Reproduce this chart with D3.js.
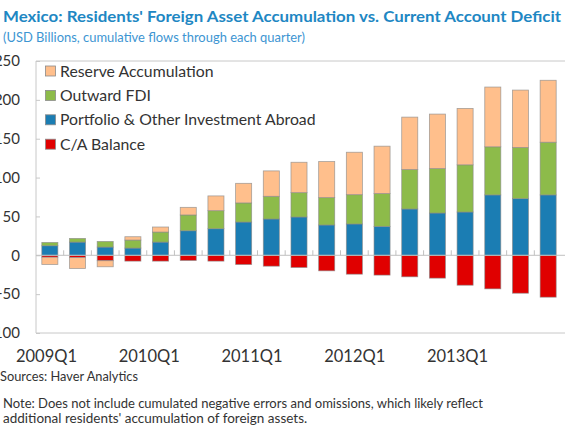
<!DOCTYPE html>
<html>
<head>
<meta charset="utf-8">
<script src="https://cdn.jsdelivr.net/npm/d3@7"></script>
<style>
  body { margin: 0; background: #fff; }
  svg { display: block; font-family: Lato, 'Open Sans', sans-serif; }
</style>
</head>
<body>
<div id="chart"></div>
<script>
var quarters = ['2009Q1', '2009Q2', '2009Q3', '2009Q4', '2010Q1', '2010Q2', '2010Q3', '2010Q4',
    '2011Q1', '2011Q2', '2011Q3', '2011Q4', '2012Q1', '2012Q2', '2012Q3', '2012Q4',
    '2013Q1', '2013Q2', '2013Q3'];
var portfolio = [12.3, 17, 10.6, 9.3, 17, 31.6, 34.2, 42.8, 46.7, 49.3, 39, 40.3, 37.2, 59.6, 54.4, 55.7, 77.7, 72.9, 77.7];
var outwardFdi = [4.2, 4.7, 7.2, 10.3, 12.9, 20.3, 23.2, 24.6, 29.2, 31.3, 35.2, 37.7, 42.2, 50.7, 57.2, 60.7, 61.9, 65.8, 67.8];
var reserves = [-9.3, -14, -7.8, 4.3, 6.5, 9.8, 19, 25.2, 32.7, 39.1, 46.4, 54.6, 61, 67.5, 70.1, 72.6, 76.9, 73.9, 79.7];
var caBalance = [-2.5, -3, -7, -7.5, -7.5, -6.7, -7.5, -11.9, -14, -15.7, -20, -24.3, -25.5, -27.7, -29.4, -38.5, -43.2, -48.8, -53.9];
var yTicks = [-100, -50, 0, 50, 100, 150, 200, 250];
var labelQuarters = ['2009Q1', '2010Q1', '2011Q1', '2012Q1', '2013Q1'];

var series = [
    { name: 'C/A Balance', values: caBalance, color: '#e00000' },
    { name: 'Portfolio & Other Investment Abroad', values: portfolio, color: '#1b7db3' },
    { name: 'Outward FDI', values: outwardFdi, color: '#8dbb4a' },
    { name: 'Reserve Accumulation', values: reserves, color: '#ffbf8c' }
];

var width = 565, height = 429;
var plot = { left: 36, right: 566, top: 61, bottom: 333 };

var svg = d3.select('#chart').append('svg')
    .attr('width', width)
    .attr('height', height);

svg.append('text')
    .attr('x', 3).attr('y', 22)
    .attr('textLength', 558).attr('lengthAdjust', 'spacingAndGlyphs')
    .style('font-size', '16px').style('font-weight', 'bold')
    .style('fill', '#1e87c3')
    .text("Mexico: Residents' Foreign Asset Accumulation vs. Current Account Deficit");

svg.append('text')
    .attr('x', 3).attr('y', 42)
    .attr('textLength', 302).attr('lengthAdjust', 'spacingAndGlyphs')
    .style('font-size', '13.5px')
    .style('fill', '#3d95d2')
    .text('(USD Billions, cumulative flows through each quarter)');

var x = d3.scaleBand()
    .domain(quarters)
    .range([plot.left, 562])
    .paddingInner(0.42)
    .paddingOuter(0.21);

var y = d3.scaleLinear()
    .domain([-100, 250])
    .range([plot.bottom, plot.top]);

// quarter labels sit on their own spacing in the original
var xLabel = d3.scalePoint()
    .domain(labelQuarters)
    .range([46, 457]);

// frame
var frame = svg.append('g').attr('stroke', '#c8c8c8').attr('fill', 'none');
frame.append('line').attr('x1', plot.left).attr('x2', plot.right).attr('y1', plot.top).attr('y2', plot.top);
frame.append('line').attr('x1', plot.left).attr('x2', plot.right).attr('y1', plot.bottom).attr('y2', plot.bottom);
frame.append('line').attr('x1', plot.left).attr('x2', plot.left).attr('y1', plot.top).attr('y2', plot.bottom);

var yAxis = svg.append('g')
    .attr('transform', `translate(${plot.left},0)`)
    .call(d3.axisLeft(y).tickValues(yTicks).tickSize(-4).tickPadding(16).tickFormat(d3.format('d')));
yAxis.select('.domain').remove();
yAxis.selectAll('line').attr('stroke', '#c8c8c8');
yAxis.selectAll('text')
    .style('font-family', 'Lato, sans-serif')
    .style('font-size', '15px')
    .style('fill', '#333');

// stacked bars: positives and negatives stack separately
var posBase = quarters.map(() => 0);
var negBase = quarters.map(() => 0);
var rects = [];
series.forEach(function (s) {
    s.values.forEach(function (v, i) {
        var y0, y1;
        if (v >= 0) { y0 = posBase[i]; y1 = y0 + v; posBase[i] = y1; }
        else { y0 = negBase[i]; y1 = y0 + v; negBase[i] = y1; }
        rects.push({ q: quarters[i], y0: y0, y1: y1, color: s.color });
    });
});

svg.append('g').selectAll('rect')
    .data(rects)
    .join('rect')
    .attr('x', d => x(d.q))
    .attr('width', x.bandwidth())
    .attr('y', d => y(Math.max(d.y0, d.y1)))
    .attr('height', d => Math.abs(y(d.y0) - y(d.y1)))
    .attr('fill', d => d.color)
    .attr('stroke', '#8a8a8a')
    .attr('stroke-opacity', 0.75)
    .attr('stroke-width', 0.8);

// zero line with category ticks
var zero = svg.append('g')
    .attr('transform', `translate(0,${y(0)})`)
    .call(d3.axisTop(x).tickSize(0).tickFormat(''));
zero.select('.domain').attr('stroke', '#c0c0c0').attr('d', `M${plot.left},0H${plot.right}`);
zero.selectAll('.tick').remove();
zero.selectAll('.cat-tick')
    .data(quarters.slice(1))
    .join('line')
    .attr('class', 'cat-tick')
    .attr('x1', d => x(d) - x.step() * x.paddingInner() / 2)
    .attr('x2', d => x(d) - x.step() * x.paddingInner() / 2)
    .attr('y1', 0).attr('y2', -5)
    .attr('stroke', '#c0c0c0');

var xAxis = svg.append('g')
    .attr('transform', `translate(0,${plot.bottom})`)
    .call(d3.axisBottom(xLabel).tickSize(0).tickPadding(17));
xAxis.select('.domain').remove();
xAxis.selectAll('text')
    .style('font-family', 'Lato, sans-serif')
    .style('font-size', '16.5px')
    .style('fill', '#333');

// legend (reverse order of stacking)
var legend = svg.append('g').attr('transform', 'translate(45,71)');
var items = legend.selectAll('g')
    .data(series.slice().reverse())
    .join('g')
    .attr('transform', (d, i) => `translate(0,${i * 24.4})`);
items.append('rect')
    .attr('x', 0.5).attr('y', -5)
    .attr('width', 10).attr('height', 10)
    .attr('fill', d => d.color)
    .attr('stroke', '#8a8a8a').attr('stroke-width', 0.8);
items.append('text')
    .attr('x', 15).attr('y', 5.5)
    .style('font-size', '15.8px')
    .style('fill', '#333')
    .text(d => d.name);

svg.append('text')
    .attr('x', 0).attr('y', 381)
    .attr('textLength', 138).attr('lengthAdjust', 'spacingAndGlyphs')
    .style('font-size', '13.5px').style('fill', '#333')
    .text('Sources: Haver Analytics');

svg.append('text')
    .attr('x', 3).attr('y', 408)
    .attr('textLength', 480).attr('lengthAdjust', 'spacingAndGlyphs')
    .style('font-size', '13.5px').style('fill', '#333')
    .text('Note: Does not include cumulated negative errors and omissions, which likely reflect');

svg.append('text')
    .attr('x', 3).attr('y', 423)
    .style('font-size', '13.5px').style('fill', '#333')
    .text("additional residents' accumulation of foreign assets.");
</script>
</body>
</html>
